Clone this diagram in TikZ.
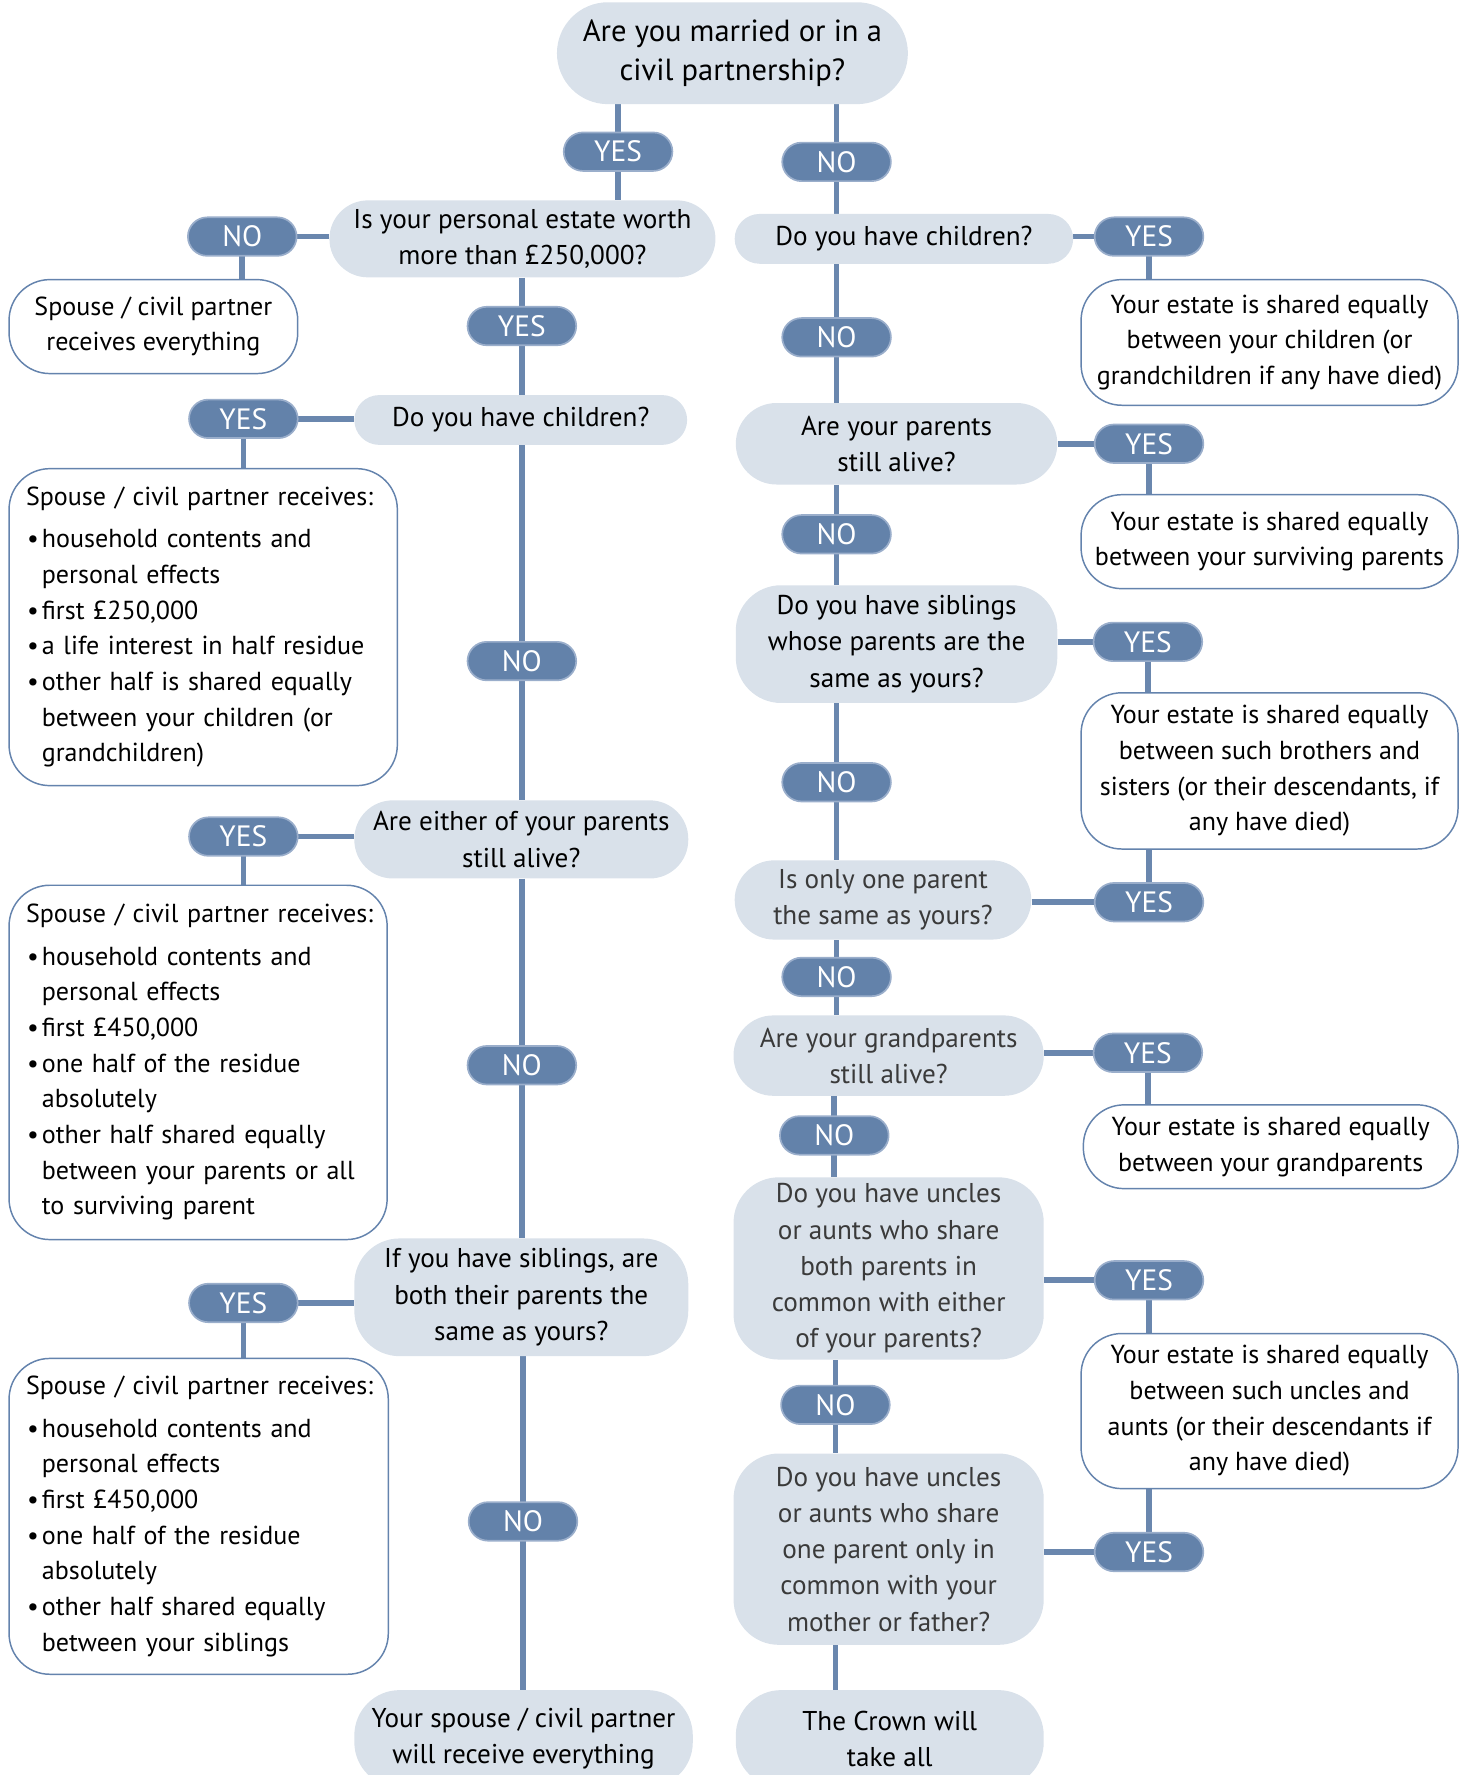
\documentclass[tikz,border=0pt]{standalone}
\usepackage{fontspec}
\setmainfont{PT Sans}
\usetikzlibrary{backgrounds}
\definecolor{qfill}{HTML}{D9E1EA}
\definecolor{lblfill}{HTML}{6382AA}
\definecolor{lbldraw}{HTML}{9AAECB}
\definecolor{conn}{HTML}{6A87AE}
\definecolor{resdraw}{HTML}{6483AD}
\definecolor{greytext}{HTML}{3A3A3A}
\hyphenpenalty=10000
\hbadness=10000
\hfuzz=50pt
\newcommand{\bl}[1]{\hspace*{1pt}\makebox[13pt][l]{\textbullet}#1}
\newcommand{\ct}[1]{\hspace*{14pt}#1}
\newcommand{\hdr}{\mbox{Spouse / civil partner receives:}}
\begin{document}
\begin{tikzpicture}[x=1pt,y=-1pt,
  font=\fontsize{24}{32}\selectfont,
  q/.style={fill=qfill, align=center, inner sep=0pt, rounded corners=36pt},
  res/.style={fill=white, draw=resdraw, line width=1.3pt, align=center, inner sep=0pt, rounded corners=36pt,
    font=\fontsize{23}{31.5}\selectfont},
  resl/.style={res, align=left, inner xsep=15pt},
  lbl/.style={fill=lblfill, draw=lbldraw, line width=1.5pt, rounded corners=17pt,
    minimum width=96pt, minimum height=34pt, text=white, inner sep=0pt,
    font=\fontsize{26}{30}\selectfont},
  conline/.style={draw=conn, line width=5pt}]
\useasboundingbox (0,0) rectangle (1296,1568);
\clip (0,0) rectangle (1296,1568);
% questions left
\node[q, minimum width=310pt, minimum height=90pt, rounded corners=45pt, font=\fontsize{27}{34}\selectfont] (q0) at (647,47) {Are you married or in a\\civil partnership?};
\node[q, minimum width=341pt, minimum height=68pt, rounded corners=34pt] (q1) at (461.5,211) {Is your personal estate worth\\more than £250,000?};
\node[q, minimum width=294pt, minimum height=44pt, rounded corners=22pt] (q2) at (460,371) {Do you have children?};
\node[q, minimum width=295pt, minimum height=69pt, rounded corners=34pt] (q3) at (460.5,741.5) {Are either of your parents\\still alive?};
\node[q, minimum width=295pt, minimum height=104pt, rounded corners=40pt] (q4) at (460.5,1146) {If you have siblings, are\\both their parents the\\same as yours?};
\node[q, minimum width=299pt, minimum height=86pt, rounded corners=40pt] (q5) at (462.5,1536) {Your spouse / civil partner\\will receive everything};
% questions right
\node[q, minimum width=299pt, minimum height=44pt, rounded corners=22pt] (r1) at (798.5,211) {Do you have children?};
\node[q, minimum width=284pt, minimum height=72pt, rounded corners=36pt] (r2) at (792,392) {Are your parents\\still alive?};
\node[q, minimum width=284pt, minimum height=104pt, rounded corners=40pt] (r3) at (792,569) {Do you have siblings\\whose parents are the\\same as yours?};
\node[q, minimum width=262pt, minimum height=70pt, rounded corners=35pt, text=greytext] (r4) at (780,795) {Is only one parent\\the same as yours?};
\node[q, minimum width=274pt, minimum height=71pt, rounded corners=35pt, text=greytext] (r5) at (785,932.5) {Are your grandparents\\still alive?};
\node[q, minimum width=274pt, minimum height=161pt, rounded corners=40pt, text=greytext] (r6) at (785,1120.5) {Do you have uncles\\or aunts who share\\both parents in\\common with either\\of your parents?};
\node[q, minimum width=274pt, minimum height=169pt, rounded corners=40pt, text=greytext] (r7) at (785,1368.5) {Do you have uncles\\or aunts who share\\one parent only in\\common with your\\mother or father?};
\node[q, minimum width=272pt, minimum height=86pt, rounded corners=40pt] (rf) at (786,1536) {The Crown will\\take all};
% results left
\node[res, minimum width=255pt, minimum height=83pt] (a1) at (135.5,288.5) {Spouse / civil partner\\receives everything};
\node[resl, text width=313pt, minimum height=280pt] (a2) at (179.5,554) {\hdr\\[6pt]
\bl{household contents and}\\
\ct{personal effects}\\
\bl{first £250,000}\\
\bl{a life interest in half residue}\\
\bl{other half is shared equally}\\
\ct{between your children (or}\\
\ct{grandchildren)}};
\node[resl, text width=304pt, minimum height=313pt] (a3) at (175,938.5) {\hdr\\[6pt]
\bl{household contents and}\\
\ct{personal effects}\\
\bl{first £450,000}\\
\bl{one half of the residue}\\
\ct{absolutely}\\
\bl{other half shared equally}\\
\ct{between your parents or all}\\
\ct{to surviving parent}};
\node[resl, text width=305pt, minimum height=279pt] (a4) at (175.5,1339.5) {\hdr\\[6pt]
\bl{household contents and}\\
\ct{personal effects}\\
\bl{first £450,000}\\
\bl{one half of the residue}\\
\ct{absolutely}\\
\bl{other half shared equally}\\
\ct{between your siblings}};
% results right
\node[res, minimum width=333pt, minimum height=111pt] (b1) at (1121.5,302.5) {Your estate is shared equally\\between your children (or\\grandchildren if any have died)};
\node[res, minimum width=333pt, minimum height=83pt] (b2) at (1121.5,478.5) {Your estate is shared equally\\between your surviving parents};
\node[res, minimum width=333pt, minimum height=138pt] (b3) at (1121.5,681) {Your estate is shared equally\\between such brothers and\\sisters (or their descendants, if\\any have died)};
\node[res, minimum width=331pt, minimum height=74pt] (b5) at (1122.5,1013) {Your estate is shared equally\\between your grandparents};
\node[res, minimum width=333pt, minimum height=137pt] (b6) at (1121.5,1246.5) {Your estate is shared equally\\between such uncles and\\aunts (or their descendants if\\any have died)};
% labels
\node[lbl] (y1) at (546,134) {YES};
\node[lbl] (n1) at (739,143) {NO};
\node[lbl] (n2) at (214,209) {NO};
\node[lbl] (y2) at (461,288) {YES};
\node[lbl] (y3) at (215,370) {YES};
\node[lbl] (n3) at (461,584) {NO};
\node[lbl] (y4) at (215,739) {YES};
\node[lbl] (n4) at (461,941) {NO};
\node[lbl] (y5) at (215,1151) {YES};
\node[lbl] (n5) at (462,1344) {NO};
\node[lbl] (y6) at (1015,209) {YES};
\node[lbl] (n6) at (739,298) {NO};
\node[lbl] (y7) at (1015,392) {YES};
\node[lbl] (n7) at (739,472) {NO};
\node[lbl] (y8) at (1014,567) {YES};
\node[lbl] (n8) at (739,691) {NO};
\node[lbl] (y9) at (1015,797) {YES};
\node[lbl] (n9) at (739,863) {NO};
\node[lbl] (y10) at (1014,930) {YES};
\node[lbl] (n10) at (737,1003) {NO};
\node[lbl] (y11) at (1015,1131) {YES};
\node[lbl] (n11) at (738,1241) {NO};
\node[lbl] (y12) at (1015,1371) {YES};
% connectors
\begin{scope}[on background layer]
\draw[conline] (y1 |- q0.south) -- (y1 |- q1.north);
\draw[conline] (n1 |- q0.south) -- (n1 |- r1.north);
\draw[conline] (q1.west |- n2) -- (n2.center) -- (n2 |- a1.north);
\draw[conline] (y2 |- q1.south) -- (y2 |- q2.north);
\draw[conline] (q2.west |- y3) -- (y3.center) -- (y3 |- a2.north);
\draw[conline] (n3 |- q2.south) -- (n3 |- q3.north);
\draw[conline] (q3.west |- y4) -- (y4.center) -- (y4 |- a3.north);
\draw[conline] (n4 |- q3.south) -- (n4 |- q4.north);
\draw[conline] (q4.west |- y5) -- (y5.center) -- (y5 |- a4.north);
\draw[conline] (n5 |- q4.south) -- (n5 |- q5.north);
\draw[conline] (r1.east |- y6) -- (y6.center) -- (y6 |- b1.north);
\draw[conline] (n6 |- r1.south) -- (n6 |- r2.north);
\draw[conline] (r2.east |- y7) -- (y7.center) -- (y7 |- b2.north);
\draw[conline] (n7 |- r2.south) -- (n7 |- r3.north);
\draw[conline] (r3.east |- y8) -- (y8.center) -- (y8 |- b3.north);
\draw[conline] (n8 |- r3.south) -- (n8 |- r4.north);
\draw[conline] (r4.east |- y9) -- (y9.center) -- (y9 |- b3.south);
\draw[conline] (n9 |- r4.south) -- (n9 |- r5.north);
\draw[conline] (r5.east |- y10) -- (y10.center) -- (y10 |- b5.north);
\draw[conline] (n10 |- r5.south) -- (n10 |- r6.north);
\draw[conline] (r6.east |- y11) -- (y11.center) -- (y11 |- b6.north);
\draw[conline] (n11 |- r6.south) -- (n11 |- r7.north);
\draw[conline] (r7.east |- y12) -- (y12.center) -- (y12 |- b6.south);
\draw[conline] (n11 |- r7.south) -- (n11 |- rf.north);
\end{scope}
\end{tikzpicture}
\end{document}
